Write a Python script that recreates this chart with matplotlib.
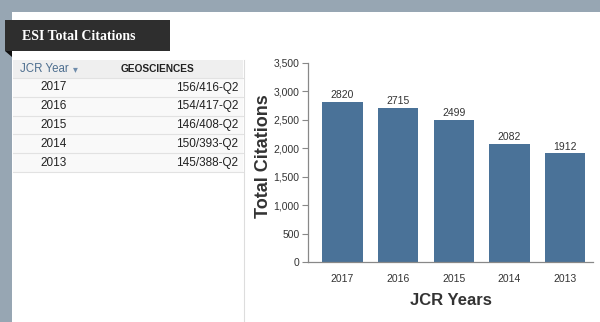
import matplotlib.pyplot as plt
import matplotlib.patches as mpatches
import numpy as np

years = ["2017", "2016", "2015", "2014", "2013"]
citations = [2820, 2715, 2499, 2082, 1912]
ranks = ["156/416-Q2", "154/417-Q2", "146/408-Q2", "150/393-Q2", "145/388-Q2"]

W, H = 600, 322
fig = plt.figure(figsize=(6, 3.22), dpi=100)
fig.patch.set_facecolor("white")

def px(x, y, w, h):
    # pixel box (top-left origin) -> figure fraction
    return (x / W, 1 - (y + h) / H, w / W, h / H)

def add_rect(x, y, w, h, color, z=0):
    l, b, ww, hh = px(x, y, w, h)
    fig.patches.append(mpatches.Rectangle((l, b), ww, hh, transform=fig.transFigure,
                                          facecolor=color, edgecolor="none", zorder=z))

# outer frame
add_rect(0, 0, 600, 12, "#97a6b3")
add_rect(0, 0, 12, 322, "#97a6b3")

# table
add_rect(13, 60, 230, 18, "#efefef")
add_rect(13, 78, 230, 94, "#f9f9f9")
for i in range(6):
    y = 78 + i * 18.8
    fig.add_artist(plt.Line2D([13 / W, 243 / W], [1 - y / H, 1 - y / H],
                              transform=fig.transFigure, color="#e2e2e2", lw=0.8))
fig.add_artist(plt.Line2D([244 / W, 244 / W], [1 - 60 / H, 0],
                          transform=fig.transFigure, color="#dddddd", lw=0.8))

fig.text(20 / W, 1 - 69 / H, "JCR Year", color="#4d6e8f", fontsize=8.3,
         family="Liberation Sans", va="center")
fig.text(73 / W, 1 - 69.5 / H, "\u25be", color="#6f8cab", fontsize=7, va="center")
fig.text(121 / W, 1 - 69 / H, "GEOSCIENCES", color="#222222", fontsize=7.3,
         family="Liberation Sans", fontweight="bold", va="center")
for i, (yr, rk) in enumerate(zip(years, ranks)):
    yc = 87.5 + i * 18.8
    fig.text(40 / W, 1 - yc / H, yr, fontsize=8.5, family="Liberation Sans",
             color="#222222", va="center")
    fig.text(238 / W, 1 - yc / H, rk, fontsize=8.5, family="Liberation Sans",
             color="#222222", va="center", ha="right")

# header tag
add_rect(5, 20, 165, 31, "#2e2e2e", z=2)
l, b, ww, hh = px(5, 51, 7, 6)
fig.patches.append(mpatches.Polygon([(l, b + hh), (l + ww, b + hh), (l + ww, b)],
                                    closed=True, transform=fig.transFigure,
                                    facecolor="#111111", edgecolor="none", zorder=2))
fig.text(22 / W, 1 - 36 / H, "ESI Total Citations", color="white", fontsize=10,
         family="Liberation Serif", fontweight="bold", va="center", zorder=3)

# bar chart
ax = fig.add_axes(px(308, 63, 285, 199))
x = np.arange(len(years))
bars = ax.bar(x, citations, width=0.72, color="#4a7298")
for xi, v in zip(x, citations):
    ax.text(xi, v + 25, str(v), ha="center", va="bottom", fontsize=7.5,
            family="Liberation Sans", color="#333333")
ax.set_xlim(-0.62, len(years) - 0.5)
ax.set_ylim(0, 3500)
ax.set_yticks(range(0, 3501, 500))
ax.set_yticklabels([f"{v:,}" for v in range(0, 3501, 500)])
ax.set_xticks(x)
ax.set_xticklabels(years)
ax.tick_params(axis="y", labelsize=7.5, colors="#888888", labelcolor="#333333",
               length=4, width=0.8, pad=2)
ax.tick_params(axis="x", labelsize=7.5, length=0, labelcolor="#333333", pad=9)
for lab in ax.get_xticklabels() + ax.get_yticklabels():
    lab.set_family("Liberation Sans")
for s in ["top", "right"]:
    ax.spines[s].set_visible(False)
for s in ["left", "bottom"]:
    ax.spines[s].set_color("#888888")
    ax.spines[s].set_linewidth(0.9)
ax.set_xlabel("JCR Years", fontsize=12, fontweight="bold", family="Liberation Sans",
              color="#333333", labelpad=6)
ax.set_ylabel("Total Citations", fontsize=13, fontweight="bold", family="Liberation Sans",
              color="#333333", labelpad=8)
ax.yaxis.set_label_coords(-0.125, 0.53)

fig.savefig("out.png", dpi=100)
